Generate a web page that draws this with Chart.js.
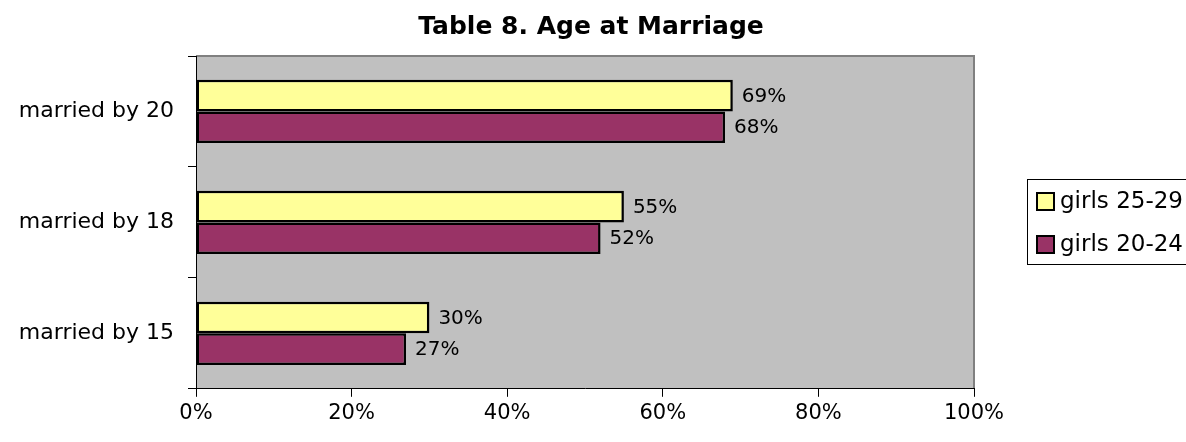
<!DOCTYPE html>
<html>
<head>
<meta charset="utf-8">
<script src="https://cdn.jsdelivr.net/npm/chart.js@4"></script>
<style>
  html, body { margin: 0; padding: 0; background: #fff; }
  #wrap { width: 1186px; height: 442px; }
</style>
</head>
<body>
<div id="wrap"><canvas id="chart" width="1186" height="442"></canvas></div>
<script>
let categories = ['married by 20', 'married by 18', 'married by 15']
let girls_25_29 = [69, 55, 30]
let girls_20_24 = [68, 52, 27]
let x_ticks = [0, 20, 40, 60, 80, 100]
let title_text = 'Table 8. Age at Marriage'

const FONT = "'DejaVu Sans', sans-serif"

// grey plot background with the darker frame on top/right, plus the title
let plotBack = {
    id: 'plotBack',
    beforeDraw(chart) {
        let { ctx, chartArea: a } = chart
        ctx.save()
        ctx.fillStyle = '#c0c0c0'
        ctx.fillRect(a.left, a.top, a.right - a.left, a.bottom - a.top)
        ctx.strokeStyle = '#808080'
        ctx.lineWidth = 2
        ctx.beginPath()
        ctx.moveTo(a.left, a.top)
        ctx.lineTo(a.right, a.top)
        ctx.lineTo(a.right, a.bottom)
        ctx.stroke()

        ctx.fillStyle = '#000'
        ctx.font = 'bold 25px ' + FONT
        ctx.textAlign = 'center'
        ctx.textBaseline = 'middle'
        ctx.fillText(title_text, (a.left + a.right) / 2 + 6, 27)
        ctx.restore()
    }
}

// value labels at the end of each bar
let barLabels = {
    id: 'barLabels',
    afterDatasetsDraw(chart) {
        let ctx = chart.ctx
        ctx.save()
        ctx.font = '20px ' + FONT
        ctx.fillStyle = '#000'
        ctx.textBaseline = 'middle'
        ctx.textAlign = 'left'
        chart.data.datasets.forEach((ds, i) => {
            chart.getDatasetMeta(i).data.forEach((bar, j) => {
                ctx.fillText(ds.data[j] + '%', bar.x + 9, bar.y + 1)
            })
        })
        ctx.restore()
    }
}

// boxed legend on the right
let boxLegend = {
    id: 'boxLegend',
    afterDraw(chart) {
        let ctx = chart.ctx
        let a = chart.chartArea
        let x0 = a.right + 53
        let y0 = 179
        ctx.save()
        ctx.fillStyle = '#fff'
        ctx.fillRect(x0, y0, 200, 85)
        ctx.strokeStyle = '#000'
        ctx.lineWidth = 1
        ctx.strokeRect(x0 + 0.5, y0 + 0.5, 200, 85)
        ctx.font = '23px ' + FONT
        ctx.textBaseline = 'middle'
        chart.data.datasets.forEach((ds, i) => {
            let cy = y0 + 22 + i * 43
            ctx.fillStyle = ds.backgroundColor
            ctx.fillRect(x0 + 10, cy - 8, 17, 17)
            ctx.lineWidth = 2
            ctx.strokeRect(x0 + 10, cy - 8, 17, 17)
            ctx.fillStyle = '#000'
            ctx.fillText(ds.label, x0 + 33, cy + 1)
        })
        ctx.restore()
    }
}

let chart = new Chart(document.getElementById('chart').getContext('2d'), {
    type: 'bar',
    data: {
        labels: categories,
        datasets: [{
            label: 'girls 25-29',
            data: girls_25_29,
            backgroundColor: '#ffff99',
            borderColor: '#000',
            borderWidth: 2.5,
            borderSkipped: false
        }, {
            label: 'girls 20-24',
            data: girls_20_24,
            backgroundColor: '#993366',
            borderColor: '#000',
            borderWidth: 2.5,
            borderSkipped: false
        }]
    },
    options: {
        indexAxis: 'y',
        responsive: false,
        animation: false,
        devicePixelRatio: 1,
        datasets: { bar: { categoryPercentage: 0.57, barPercentage: 1 } },
        layout: { padding: { left: 0, right: 212, top: 56, bottom: 12 } },
        plugins: {
            legend: { display: false },
            tooltip: { enabled: false },
            title: { display: false }
        },
        scales: {
            x: {
                min: 0,
                max: 100,
                afterBuildTicks: s => { s.ticks = x_ticks.map(v => ({ value: v })) },
                ticks: {
                    color: '#000',
                    font: { family: FONT, size: 21 },
                    padding: 4,
                    callback: v => v + '%'
                },
                grid: {
                    drawOnChartArea: false,
                    drawTicks: true,
                    tickLength: 8,
                    color: '#000'
                },
                border: { color: '#000', width: 1 }
            },
            y: {
                afterFit: s => { s.width = 196 },
                ticks: {
                    color: '#000',
                    font: { family: FONT, size: 22 },
                    padding: 14
                },
                grid: {
                    offset: true,
                    drawOnChartArea: false,
                    drawTicks: true,
                    tickLength: 8,
                    color: '#000'
                },
                border: { color: '#000', width: 1 }
            }
        }
    },
    plugins: [plotBack, barLabels, boxLegend]
})
</script>
</body>
</html>
